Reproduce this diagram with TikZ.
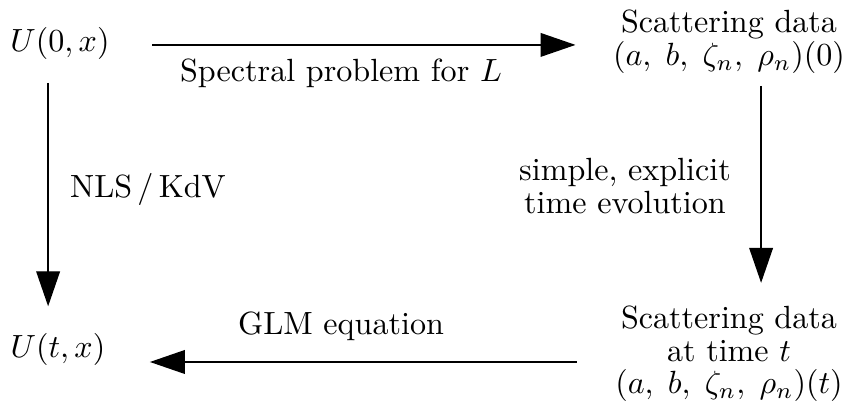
\documentclass[tikz,border=0pt]{standalone}
\usetikzlibrary{arrows.meta}
\begin{document}
\begin{tikzpicture}[x=0.3115pt,y=-0.3115pt,
  lbl/.style={inner sep=0pt, anchor=base},
  blk/.style={inner sep=0pt, align=center, anchor=north},
  arr/.style={-{Triangle[length=10.9pt,width=7.4pt]}, line width=0.42pt},
]
\useasboundingbox (0,0) rectangle (844,409);
\node[lbl] (u0) at (60,52) {$U(0,x)$};
\node[lbl] (ut) at (58,358) {$U(t,x)$};
\node[blk] (s0) at (729,9) {Scattering data\\[-1.7pt]$(a,\; b,\; \zeta_n,\; \rho_n)(0)$};
\node[blk] (st) at (729,305) {Scattering data\\[-1.7pt]at time $t$\\[-2pt]$(a,\; b,\; \zeta_n,\; \rho_n)(t)$};
\node[lbl] (sp) at (341,82) {Spectral problem for $L$};
\node[lbl] (nk) at (148,198) {NLS\,/\,KdV};
\node[blk] (te) at (625,158) {simple, explicit\\[-1.7pt]time evolution};
\node[lbl] (glm) at (341,335) {GLM equation};
\draw[arr, shorten <=13.1pt, shorten >=11.5pt] ([yshift=-0.3pt]u0.east) -- ([yshift=-0.3pt]s0.west |- u0.east);
\draw[arr, shorten <=3.7pt, shorten >=6.9pt] ([xshift=10pt]s0.south) -- ([xshift=10pt]s0.south |- st.north);
\draw[arr, shorten <=11.8pt, shorten >=13.7pt] (st.west |- 0,362) -- (ut.east |- 0,362);
\draw[arr, shorten <=6.9pt, shorten >=8.4pt] ([xshift=-3.7pt]u0.south) -- ([xshift=-3.7pt]u0.south |- ut.north);
\end{tikzpicture}
\end{document}
